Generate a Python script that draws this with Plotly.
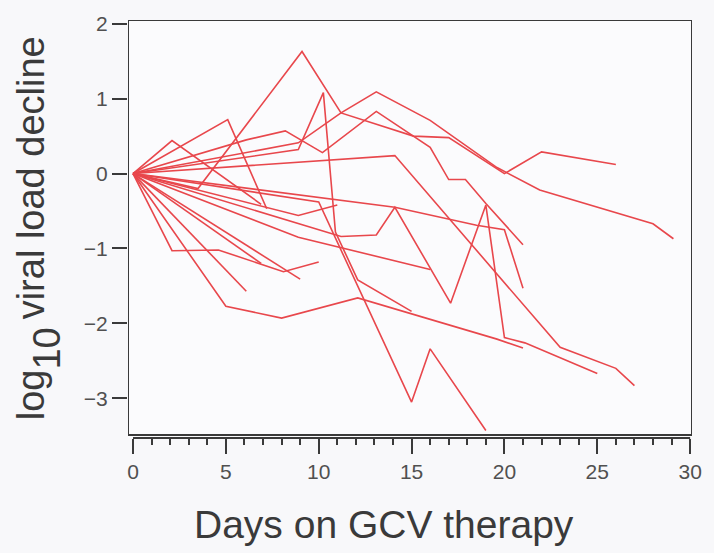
import plotly.graph_objects as go

# Per-patient log10 viral load decline (days on GCV therapy, log10 change)
days_a = [0, 3.5, 9.1, 11.2, 15.1, 17, 20, 22, 26]
vals_a = [0, -0.2, 1.63, 0.81, 0.5, 0.48, 0.0, 0.29, 0.12]
days_b = [0, 8.9, 11.2, 13.1, 16, 19.6, 21.9, 28, 29.1]
vals_b = [0, 0.41, 0.81, 1.09, 0.71, 0.08, -0.22, -0.67, -0.87]
days_c = [0, 6.1, 8.2, 10.2, 13.1, 16, 17, 17.9, 19, 21]
vals_c = [0, 0.45, 0.57, 0.28, 0.83, 0.35, -0.08, -0.08, -0.4, -0.95]
days_d = [0, 8.9, 10.25, 10.9, 12.1, 15]
vals_d = [0, 0.32, 1.08, -0.78, -1.42, -1.84]
days_e = [0, 5.1, 7.2]
vals_e = [0, 0.72, -0.47]
days_f = [0, 2.1, 6.9]
vals_f = [0, 0.44, -0.41]
days_g = [0, 5, 8, 10, 12.1, 19.6, 21]
vals_g = [0, -1.77, -1.93, -1.8, -1.66, -2.21, -2.33]
days_h = [0, 10, 15, 16, 19]
vals_h = [0, -0.38, -3.05, -2.34, -3.43]
days_i = [0, 14.1, 23, 26, 27]
vals_i = [0, 0.24, -2.32, -2.6, -2.83]
days_j = [0, 8.9, 16]
vals_j = [0, -0.85, -1.28]
days_k = [0, 2.1, 4.6, 8.1, 10]
vals_k = [0, -1.03, -1.02, -1.31, -1.18]
days_l = [0, 8.9, 11]
vals_l = [0, -0.56, -0.42]
days_m = [0, 11.2, 13.1, 14.1, 17.1, 19, 20, 21.1, 25]
vals_m = [0, -0.84, -0.82, -0.45, -1.73, -0.42, -2.19, -2.26, -2.67]
days_n = [0, 14.1, 18.5, 20, 21]
vals_n = [0, -0.45, -0.69, -0.75, -1.53]
days_o = [0, 6.1]
vals_o = [0, -1.57]
days_p = [0, 6.9]
vals_p = [0, -1.2]
days_q = [0, 9]
vals_q = [0, -1.41]

series = [
    (days_a, vals_a), (days_b, vals_b), (days_c, vals_c), (days_d, vals_d),
    (days_e, vals_e), (days_f, vals_f), (days_g, vals_g), (days_h, vals_h),
    (days_i, vals_i), (days_j, vals_j), (days_k, vals_k), (days_l, vals_l),
    (days_m, vals_m), (days_n, vals_n), (days_o, vals_o), (days_p, vals_p),
    (days_q, vals_q),
]

x_ticks = [0, 5, 10, 15, 20, 25, 30]
y_ticks = [2, 1, 0, -1, -2, -3]

LINE_RED = "#e8474c"
INK = "#3a3a3a"
LABEL = "#505050"
FONT = "Liberation Sans, Arial, Helvetica, sans-serif"

# Plot-area geometry in pixels
W, H = 714, 553
ML, MR, MT, MB = 128, 714 - 697, 16, 553 - 438
PW, PH = W - ML - MR, H - MT - MB


def px_to_paper(px, py):
    return (px - ML) / PW, (H - MB - py) / PH


fig = go.Figure()
for d, v in series:
    fig.add_trace(go.Scatter(x=d, y=v, mode="lines",
                             line=dict(color=LINE_RED, width=1.6),
                             showlegend=False, hoverinfo="skip"))

X0, X1 = -0.27, 30.1
Y_BOX_LO, Y1 = -3.49, 2.05
Y0 = -3.53

# Frame around the data region
fig.add_shape(type="rect", xref="x", yref="y", x0=X0, x1=X1, y0=Y_BOX_LO, y1=Y1,
              line=dict(color=INK, width=2), layer="above")
# Separate x-axis baseline spanning 0..30
fig.add_shape(type="line", xref="x", yref="paper", x0=0, x1=30, y0=0, y1=0,
              line=dict(color=INK, width=2), layer="above")

fig.update_layout(
    width=W, height=H,
    margin=dict(l=ML, r=MR, t=MT, b=MB),
    paper_bgcolor="#f8f8fa", plot_bgcolor="#fbfbfd",
    font=dict(family=FONT, color=INK),
    xaxis=dict(range=[X0, X1], tickvals=x_ticks, ticks="outside", ticklen=15,
               tickwidth=2, tickcolor=INK, showgrid=False, zeroline=False,
               showline=False, tickfont=dict(size=21, color=LABEL),
               minor=dict(dtick=1, tick0=0, ticks="outside", ticklen=6,
                          tickwidth=2, tickcolor=INK, showgrid=False)),
    yaxis=dict(range=[Y0, Y1], tickvals=y_ticks, ticks="outside", ticklen=15,
               tickwidth=2, tickcolor=INK, showgrid=False, zeroline=False,
               showline=False, tickfont=dict(size=21, color=LABEL)),
)

# x-axis title
tx, ty = px_to_paper(386, 525)
fig.add_annotation(xref="paper", yref="paper", x=tx, y=ty, showarrow=False,
                   xanchor="center", yanchor="middle", text="Days on GCV therapy",
                   font=dict(size=39, color=INK, family=FONT))

# Rotated y-axis title built from pieces so the subscript keeps full size
title_parts = [
    ("log", 31, 394),
    ("10", 46, 348),
    ("viral load decline", 31, 175),
]
for txt, cx, cy in title_parts:
    ax, ay = px_to_paper(cx, cy)
    fig.add_annotation(xref="paper", yref="paper", x=ax, y=ay, textangle=-90,
                       showarrow=False, xanchor="center", yanchor="middle",
                       text=txt, font=dict(size=38, color=INK, family=FONT))

fig.write_html("out.html")
